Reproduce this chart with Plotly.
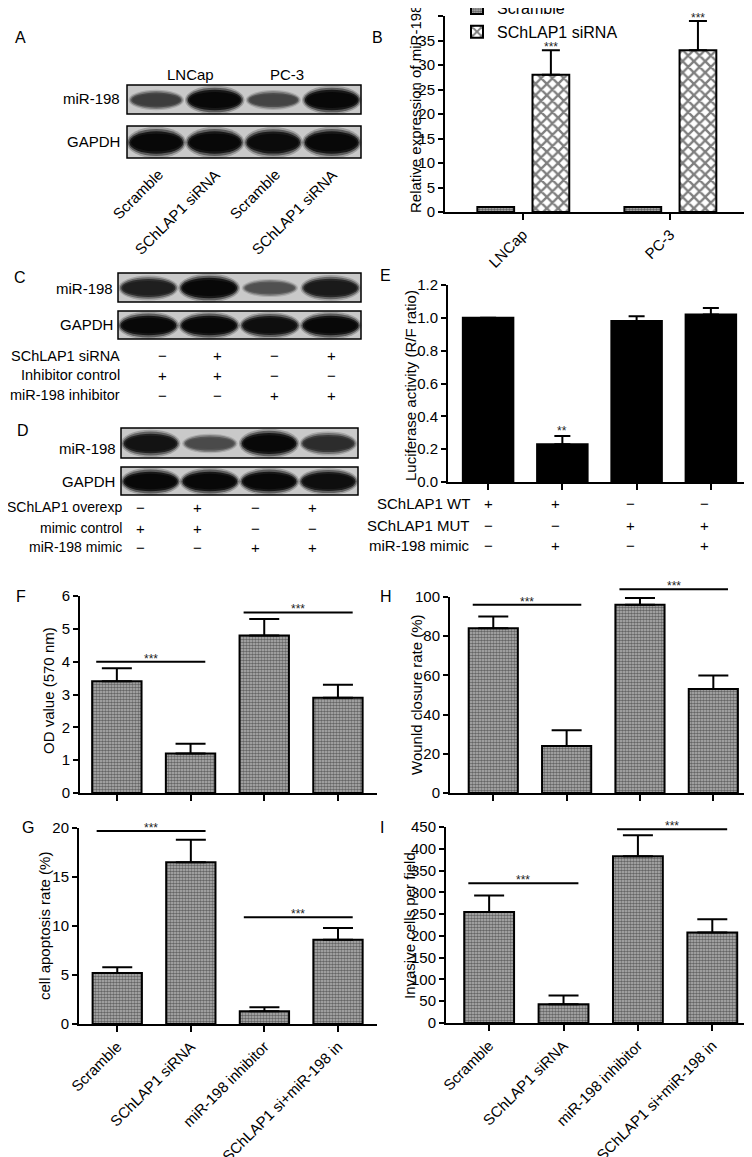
import plotly.graph_objects as go

W, H = 752, 1157
OFF = 8  # page body margin of the browser
FONT = "Liberation Sans, Arial, sans-serif"

# ---------------- data ----------------
b_groups = ["LNCap", "PC-3"]
b_scramble = [1.0, 1.0]
b_scramble_err = [0.0, 0.0]
b_sirna = [28.0, 33.0]
b_sirna_err = [5.0, 6.0]

e_values = [1.00, 0.23, 0.98, 1.02]
e_err = [0.0, 0.05, 0.03, 0.04]
e_rows = ["SChLAP1 WT", "SChLAP1 MUT", "miR-198 mimic"]
e_signs = [["+", "+", "−", "−"], ["−", "−", "+", "+"], ["−", "+", "−", "+"]]

groups4 = ["Scramble", "SChLAP1 siRNA", "miR-198 inhibitor", "SChLAP1 si+miR-198 in"]
f_values = [3.4, 1.2, 4.8, 2.9]
f_err = [0.4, 0.3, 0.5, 0.4]
f_sig = [4.0, 5.5]
h_values = [84, 24, 96, 53]
h_err = [6, 8, 3.5, 7]
h_sig = [96, 104]
g_values = [5.2, 16.5, 1.3, 8.6]
g_err = [0.6, 2.3, 0.4, 1.2]
g_sig = [19.7, 10.9]
i_values = [255, 43, 383, 208]
i_err = [38, 20, 48, 30]
i_sig = [321, 445]

a_mir198 = [0.55, 1.0, 0.5, 1.0]
a_gapdh = [1.0, 1.0, 0.97, 1.0]
a_lanes = ["Scramble", "SChLAP1 siRNA", "Scramble", "SChLAP1 siRNA"]
a_cells = ["LNCap", "PC-3"]
c_mir198 = [0.8, 1.0, 0.4, 0.85]
c_gapdh = [1.0, 1.0, 0.95, 1.0]
c_rows = ["SChLAP1 siRNA", "Inhibitor control", "miR-198 inhibitor"]
c_signs = [["−", "+", "−", "+"], ["+", "+", "−", "−"], ["−", "−", "+", "+"]]
d_mir198 = [0.9, 0.45, 1.0, 0.7]
d_gapdh = [1.0, 1.0, 1.0, 0.95]
d_rows = ["SChLAP1 overexp", "mimic control", "miR-198 mimic"]
d_signs = [["−", "+", "−", "+"], ["+", "+", "−", "−"], ["−", "−", "+", "+"]]


def px(x):
    return (x - OFF) / W


def py(y):
    return 1 - (y - OFF) / H


# ---------------- panel geometry (screen pixels) ----------------
P = {
    "B": dict(n="", xd=(445, 745), yd=(16, 212), xr=(-0.53, 1.51), yr=(0, 40), dt=5),
    "E": dict(n="2", xd=(448, 748), yd=(285, 482), xr=(-0.54, 3.5), yr=(0, 1.2), dt=0.2),
    "F": dict(n="3", xd=(80, 377), yd=(596, 793), xr=(-0.5, 3.53), yr=(0, 6), dt=1),
    "H": dict(n="4", xd=(450, 750), yd=(597, 793), xr=(-0.59, 3.5), yr=(0, 100), dt=20),
    "G": dict(n="5", xd=(79, 377), yd=(828, 1024), xr=(-0.52, 3.53), yr=(0, 20), dt=5),
    "I": dict(n="6", xd=(446, 748), yd=(827, 1023), xr=(-0.58, 3.48), yr=(0, 450), dt=50),
}


def to_px(p, xv, yv):
    c = P[p]
    x = c["xd"][0] + (xv - c["xr"][0]) / (c["xr"][1] - c["xr"][0]) * (c["xd"][1] - c["xd"][0])
    y = c["yd"][1] - (yv - c["yr"][0]) / (c["yr"][1] - c["yr"][0]) * (c["yd"][1] - c["yd"][0])
    return x, y


fig = go.Figure()
shapes = []
ann = []

FINE = dict(shape=".", size=3, solidity=0.6, fgcolor="#111111", bgcolor="#b8b8b8")
CHECK = dict(shape="x", size=8, solidity=0.5, fgcolor="#000000", bgcolor="#ffffff")
LINE = dict(color="black", width=2)


def errs(arr, cap):
    return dict(type="data", array=arr, arrayminus=[0] * len(arr), symmetric=False,
                color="black", thickness=2, width=cap)


# B
fig.add_trace(go.Bar(x=[0, 1], y=b_scramble, width=0.25, offset=-0.31, name="Scramble",
                     marker=dict(color="#b8b8b8", pattern=FINE, line=LINE),
                     error_y=errs(b_scramble_err, 9), xaxis="x", yaxis="y"))
fig.add_trace(go.Bar(x=[0, 1], y=b_sirna, width=0.25, offset=0.065, name="SChLAP1 siRNA",
                     marker=dict(color="#ffffff", pattern=CHECK, line=LINE),
                     error_y=errs(b_sirna_err, 9), xaxis="x", yaxis="y"))
# E
fig.add_trace(go.Bar(x=[0, 1, 2, 3], y=e_values, width=0.68, showlegend=False,
                     marker=dict(color="black", line=LINE),
                     error_y=errs(e_err, 8), xaxis="x2", yaxis="y2"))
# F, H, G, I
for key, vals, er in [("F", f_values, f_err), ("H", h_values, h_err),
                      ("G", g_values, g_err), ("I", i_values, i_err)]:
    n = P[key]["n"]
    fig.add_trace(go.Bar(x=[0, 1, 2, 3], y=vals, width=0.67, showlegend=False,
                         marker=dict(color="#b8b8b8", pattern=FINE, line=LINE),
                         error_y=errs(er, 15), xaxis="x" + n, yaxis="y" + n))

# axes
lay = {}
for key, c in P.items():
    n = c["n"]
    xa = dict(domain=[px(c["xd"][0]), px(c["xd"][1])], range=list(c["xr"]), anchor="y" + n,
              showline=True, linecolor="black", linewidth=2, ticks="outside", ticklen=6,
              tickwidth=2, tickcolor="black", showgrid=False, zeroline=False, automargin=False,
              tickfont=dict(family=FONT, size=15, color="black"))
    ya = dict(domain=[py(c["yd"][1]), py(c["yd"][0])], range=list(c["yr"]), anchor="x" + n,
              showline=True, linecolor="black", linewidth=2, ticks="outside", ticklen=5,
              tickwidth=2, tickcolor="black", showgrid=False, zeroline=False, dtick=c["dt"],
              tick0=0, automargin=False, tickfont=dict(family=FONT, size=15, color="black"))
    if key == "B":
        xa.update(tickvals=[0, 1], ticktext=b_groups, tickangle=-45)
    elif key in ("G", "I"):
        xa.update(tickvals=[0, 1, 2, 3], ticktext=groups4, tickangle=-45)
    else:
        xa.update(tickvals=[0, 1, 2, 3], showticklabels=False)
    if key == "E":
        ya.update(tickformat=".1f")
    lay["xaxis" + n] = xa
    lay["yaxis" + n] = ya

# y titles
ytitles = [("B", "Relative expression of miR-198", 416, 109),
           ("E", "Luciferase activity (R/F ratio)", 410, 385),
           ("F", "OD value (570 nm)", 49, 691),
           ("H", "Wounld closure rate (%)", 416, 694),
           ("G", "cell apoptosis rate (%)", 44, 926),
           ("I", "Invasive cells per field", 409, 926)]
for _, t, x, y in ytitles:
    ann.append(dict(text=t, x=px(x), y=py(y), xref="paper", yref="paper", textangle=-90,
                    xanchor="center", yanchor="middle",
                    showarrow=False, font=dict(family=FONT, size=15, color="black")))

STAR = dict(family=FONT, size=12, color="#222")


def stars(text, x, y_top):
    # place the asterisks so their glyphs sit ~7 px above y_top
    ann.append(dict(text=text, x=px(x), y=py(y_top - 3), xref="paper", yref="paper",
                    xanchor="center", yanchor="middle", showarrow=False, font=STAR))


# significance lines
for key, levels in [("F", f_sig), ("H", h_sig), ("G", g_sig), ("I", i_sig)]:
    for (a, b), lv in zip([(0, 1), (2, 3)], levels):
        x0, y0 = to_px(key, a - 0.28, lv)
        x1, _ = to_px(key, b + 0.2, lv)
        shapes.append(dict(type="line", xref="paper", yref="paper", x0=px(x0), x1=px(x1),
                           y0=py(y0), y1=py(y0), line=dict(color="black", width=2)))
        stars("***", (x0 + x1) / 2, y0)

# stars over bars in B and E
for i in range(2):
    x, y = to_px("B", i + 0.19, b_sirna[i] + b_sirna_err[i])
    stars("***", x, y)
x, y = to_px("E", 1, e_values[1] + e_err[1])
stars("**", x, y - 2)

# E table
for r, (lab, signs, yy) in enumerate(zip(e_rows, e_signs, [503, 525, 545])):
    ann.append(dict(text=lab, x=px(472), y=py(yy), xref="paper", yref="paper", xanchor="right",
                    showarrow=False, font=dict(family=FONT, size=15, color="black")))
    for j, s in enumerate(signs):
        x, _ = to_px("E", j, 0)
        ann.append(dict(text=s, x=px(x), y=py(yy), xref="paper", yref="paper", showarrow=False,
                        font=dict(family=FONT, size=15, color="black")))


# blots
def blot(x0, y0, x1, y1, intens):
    shapes.append(dict(type="rect", xref="paper", yref="paper", x0=px(x0), x1=px(x1),
                       y0=py(y1), y1=py(y0), fillcolor="#c9c9c9", line=dict(width=0), layer="above"))
    lw = (x1 - x0) / len(intens)
    h = y1 - y0
    for i, s in enumerate(intens):
        cx = x0 + (i + 0.5) * lw
        cy = (y0 + y1) / 2 + 0.5
        g = int(8 + 120 * (1 - s))
        for wf, hf, op in [(1.02, 0.98, 0.22), (0.97, 0.85, 0.45), (0.92, 0.7, 0.8), (0.86, 0.55, 1.0)]:
            bw = lw * wf * (0.85 + 0.15 * s)
            bh = h * hf * (0.4 + 0.6 * s)
            shapes.append(dict(type="circle", xref="paper", yref="paper",
                               x0=px(cx - bw / 2), x1=px(cx + bw / 2),
                               y0=py(cy + bh / 2), y1=py(cy - bh / 2),
                               fillcolor="rgba(%d,%d,%d,%.2f)" % (g, g, g, op),
                               line=dict(width=0), layer="above"))
    shapes.append(dict(type="rect", xref="paper", yref="paper", x0=px(x0), x1=px(x1),
                       y0=py(y1), y1=py(y0), line=dict(color="black", width=1.5), layer="above"))


def label(text, x, y, xa="right", size=15, angle=0, ya="middle"):
    ann.append(dict(text=text, x=px(x), y=py(y), xref="paper", yref="paper", xanchor=xa,
                    yanchor=ya, textangle=angle, showarrow=False,
                    font=dict(family=FONT, size=size, color="black")))


# A
blot(127, 85, 361, 114, a_mir198)
blot(127, 126, 361, 158, a_gapdh)
label("miR-198", 122, 99)
label("GAPDH", 122, 142)
label(a_cells[0], 190, 74, xa="center")
label(a_cells[1], 287, 74, xa="center")
for i, t in enumerate(a_lanes):
    cx = 127 + (i + 0.5) * (361 - 127) / 4
    label(t, cx + 12, 163, xa="right", angle=-45, ya="top")

# C
blot(118, 273, 361, 302, c_mir198)
blot(118, 311, 361, 339, c_gapdh)
label("miR-198", 115, 288)
label("GAPDH", 115, 325)
for lab, signs, yy in zip(c_rows, c_signs, [356, 375, 395]):
    label(lab, 122, yy, size=14.5)
    for xx, s in zip([162, 217, 274, 331], signs):
        label(s, xx, yy, xa="center")

# D
blot(121, 428, 358, 458, d_mir198)
blot(121, 467, 358, 495, d_gapdh)
label("miR-198", 118, 448)
label("GAPDH", 117, 482)
for lab, signs, yy in zip(d_rows, d_signs, [507, 528, 547]):
    label(lab, 124, yy, size=14)
    for xx, s in zip([140, 197, 255, 312], signs):
        label(s, xx, yy, xa="center")

# panel letters
for t, x, y in [("A", 13, 38), ("B", 370, 38), ("C", 12, 277), ("E", 378, 275), ("D", 15, 430),
                ("F", 14, 596), ("H", 378, 596), ("G", 20, 827), ("I", 378, 827)]:
    label(t, x, y, xa="left", size=16)

fig.update_layout(
    width=W, height=H, margin=dict(l=0, r=0, t=0, b=0, autoexpand=False),
    paper_bgcolor="white", plot_bgcolor="white",
    barmode="overlay", shapes=shapes, annotations=ann,
    font=dict(family=FONT, size=15, color="black"),
    legend=dict(x=px(457), y=py(-9), xanchor="left", yanchor="top", bgcolor="rgba(0,0,0,0)",
                font=dict(family=FONT, size=16, color="black"), tracegroupgap=0),
    **lay,
)
fig.write_html("out.html")
